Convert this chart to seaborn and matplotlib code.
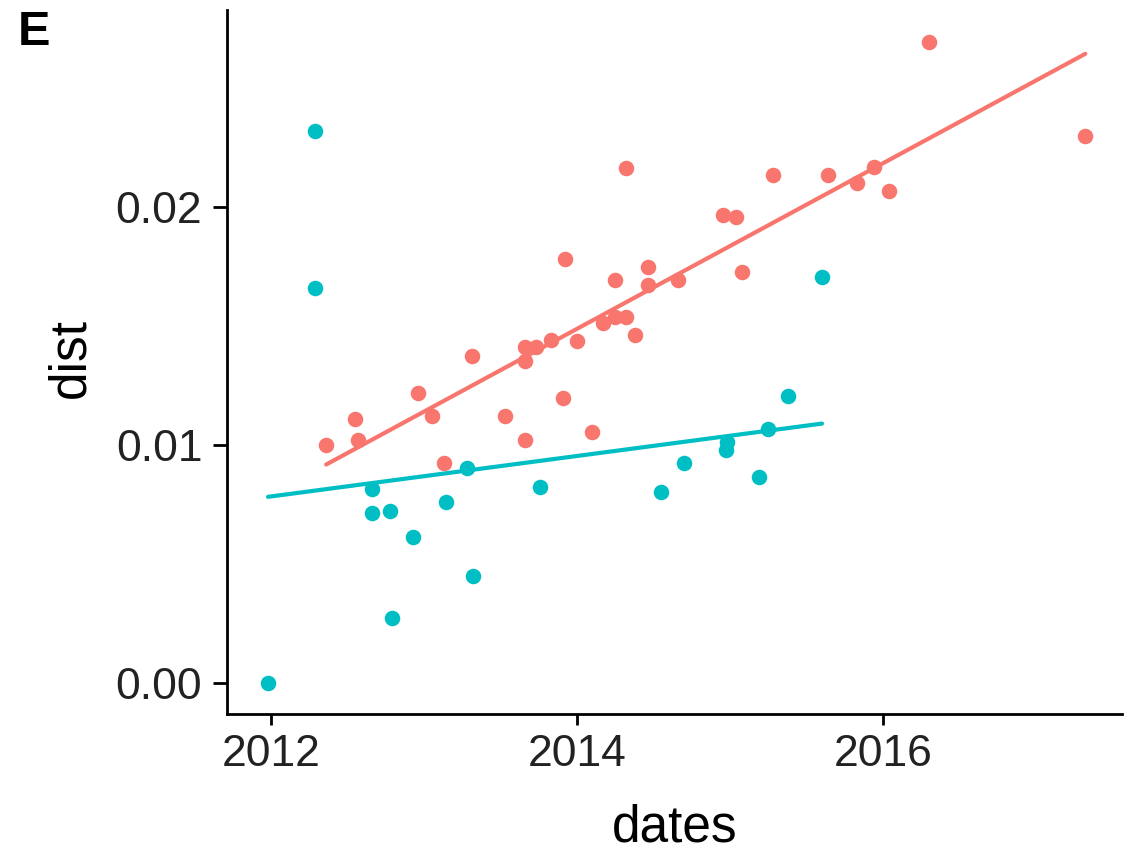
import numpy as np
import pandas as pd
import matplotlib
matplotlib.use("Agg")
import matplotlib.pyplot as plt
import seaborn as sns

# ---- data ----
group_a_dates = [2012.36, 2012.55, 2012.57, 2012.96, 2013.05, 2013.13, 2013.31, 2013.53,
                 2013.66, 2013.66, 2013.66, 2013.73, 2013.83, 2013.91, 2013.92, 2014.00,
                 2014.10, 2014.17, 2014.25, 2014.25, 2014.32, 2014.32, 2014.38, 2014.46,
                 2014.46, 2014.66, 2014.95, 2015.04, 2015.08, 2015.28, 2015.64, 2015.83,
                 2015.94, 2016.04, 2016.30, 2017.32]
group_a_dist = [0.01000, 0.01110, 0.01021, 0.01220, 0.01122, 0.00923, 0.01373, 0.01120,
                0.01021, 0.01413, 0.01352, 0.01413, 0.01441, 0.01197, 0.01779, 0.01438,
                0.01053, 0.01511, 0.01538, 0.01692, 0.01538, 0.02164, 0.01462, 0.01748,
                0.01671, 0.01692, 0.01965, 0.01955, 0.01725, 0.02133, 0.02133, 0.02101,
                0.02168, 0.02066, 0.02692, 0.02297]

group_b_dates = [2011.98, 2012.29, 2012.29, 2012.66, 2012.66, 2012.78, 2012.79, 2012.93,
                 2013.14, 2013.28, 2013.32, 2013.76, 2014.55, 2014.70, 2014.97, 2014.98,
                 2015.19, 2015.25, 2015.38, 2015.60]
group_b_dist = [0.00000, 0.02318, 0.01658, 0.00814, 0.00713, 0.00724, 0.00275, 0.00615,
                0.00760, 0.00902, 0.00450, 0.00822, 0.00801, 0.00923, 0.00979, 0.01014,
                0.00867, 0.01066, 0.01207, 0.01704]

groups = ["A", "B"]
colors = ["#F8766D", "#00BFC4"]
x_ticks = [2012, 2014, 2016]
x_tick_labels = ["2012", "2014", "2016"]
y_ticks = [0.00, 0.01, 0.02]
y_tick_labels = ["0.00", "0.01", "0.02"]

df = pd.concat([
    pd.DataFrame({"dates": group_a_dates, "dist": group_a_dist, "group": groups[0]}),
    pd.DataFrame({"dates": group_b_dates, "dist": group_b_dist, "group": groups[1]}),
], ignore_index=True)

sns.set_theme(style="ticks")
plt.rcParams["font.family"] = ["Liberation Sans", "DejaVu Sans"]

fig = plt.figure(figsize=(11.27, 8.52), dpi=100)
ax = fig.add_axes([227.3 / 1127, 1 - 714.3 / 852, (1122 - 227.3) / 1127, (714.3 - 10) / 852])

for g, c in zip(groups, colors):
    sub = df[df["group"] == g]
    sns.regplot(data=sub, x="dates", y="dist", ax=ax, ci=None, color=c,
                scatter_kws=dict(s=125, linewidths=0, alpha=1, zorder=2),
                line_kws=dict(lw=3.0, zorder=4))

ax.set_xlim(2011.714, 2017.56)
ax.set_ylim(-0.0013, 0.02825)
ax.set_xticks(x_ticks)
ax.set_xticklabels(x_tick_labels)
ax.set_yticks(y_ticks)
ax.set_yticklabels(y_tick_labels)

sns.despine(ax=ax)
for side in ["left", "bottom"]:
    ax.spines[side].set_linewidth(2.0)
    ax.spines[side].set_color("black")
ax.tick_params(axis="both", width=2.0, color="black", labelsize=32, labelcolor="#222222")
ax.tick_params(axis="x", length=8, pad=6)
ax.tick_params(axis="y", length=10, pad=8)

ax.set_xlabel("dates", fontsize=37, color="black", va="baseline")
ax.xaxis.set_label_coords(0.5, (714.3 - 842) / 704.3)
ax.set_ylabel("dist", fontsize=37, color="black", va="center", ha="center")
ax.yaxis.set_label_coords((70.8 - 227.3) / 894.7, (714.3 - 358) / 704.3)

fig.text(17.5 / 1127, 1 - 45 / 852, "E", fontsize=35, fontweight="bold", color="black",
         va="baseline", ha="left")

fig.savefig("out.png", dpi=100)
